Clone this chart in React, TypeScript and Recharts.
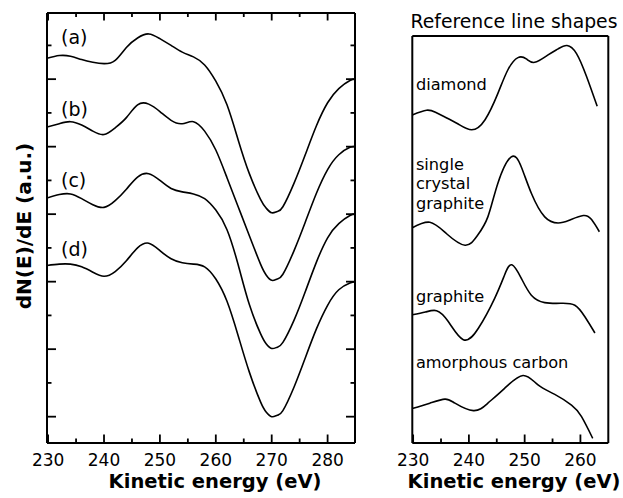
import React from 'react';
import { LineChart, Line, XAxis, YAxis, ReferenceDot } from 'recharts';

const FONT = '"DejaVu Sans", Verdana, sans-serif';

// ---------- Left panel: measured spectra (a)-(d) ----------
const energy = [229.8, 232, 234, 236, 238, 240, 242, 244, 246, 248, 250, 252, 254, 256, 258, 260, 262, 264, 266, 268, 269, 270, 271, 272, 274, 276, 278, 280, 282, 284, 284.9];
const spectrumA = [5.31, 5.35, 5.34, 5.29, 5.25, 5.23, 5.28, 5.47, 5.61, 5.67, 5.60, 5.50, 5.40, 5.33, 5.21, 4.97, 4.62, 4.10, 3.60, 3.22, 3.09, 3.02, 3.04, 3.11, 3.46, 3.88, 4.31, 4.65, 4.86, 4.98, 5.00];
const spectrumB = [4.29, 4.34, 4.37, 4.32, 4.23, 4.18, 4.28, 4.43, 4.62, 4.63, 4.52, 4.39, 4.34, 4.37, 4.23, 3.95, 3.54, 3.11, 2.68, 2.26, 2.10, 2.02, 2.04, 2.11, 2.46, 2.88, 3.31, 3.66, 3.88, 3.99, 4.00];
const spectrumC = [3.24, 3.29, 3.30, 3.23, 3.14, 3.10, 3.20, 3.37, 3.55, 3.60, 3.50, 3.38, 3.33, 3.30, 3.23, 3.06, 2.77, 2.25, 1.66, 1.23, 1.08, 1.01, 1.03, 1.10, 1.43, 1.85, 2.29, 2.65, 2.86, 2.98, 3.00];
const spectrumD = [2.24, 2.26, 2.26, 2.22, 2.14, 2.08, 2.15, 2.31, 2.50, 2.57, 2.46, 2.34, 2.28, 2.26, 2.22, 2.04, 1.71, 1.20, 0.66, 0.22, 0.07, 0.00, 0.02, 0.09, 0.44, 0.87, 1.30, 1.65, 1.88, 1.98, 2.00];
const spectrumNames = ['(a)', '(b)', '(c)', '(d)'];
const spectrumLabelE = [232.3, 232.3, 232.3, 232.3];
const spectrumLabelY = [5.52, 4.46, 3.40, 2.38];

const leftXDomain = [229.8, 284.9];
const leftYDomain = [-0.39, 5.98];
const leftXTicks = [230, 235, 240, 245, 250, 255, 260, 265, 270, 275, 280];
const leftYTicks = [0, 0.5, 1, 1.5, 2, 2.5, 3, 3.5, 4, 4.5, 5, 5.5];

// ---------- Right panel: reference line shapes ----------
const diamondE = [229.85, 232.4, 234.0, 235.7, 238.0, 240.5, 242.9, 245.2, 247.0, 248.8, 250.3, 251.8, 254.2, 256.0, 257.6, 259.3, 261.1, 263.0];
const diamondV = [4.86, 4.93, 4.90, 4.83, 4.73, 4.64, 4.79, 5.18, 5.53, 5.71, 5.69, 5.64, 5.75, 5.84, 5.89, 5.77, 5.43, 4.99];
const crystalE = [229.85, 233.0, 236.0, 239.3, 241.5, 243.4, 245.2, 247.6, 249.4, 251.2, 253.6, 256.0, 258.0, 260.5, 262.0, 263.4];
const crystalV = [3.19, 3.27, 3.10, 2.93, 3.07, 3.35, 3.85, 4.24, 4.09, 3.70, 3.35, 3.26, 3.30, 3.37, 3.31, 3.13];
const graphiteE = [229.85, 232.2, 234.2, 236.3, 239.0, 241.7, 244.6, 246.4, 247.7, 249.4, 251.2, 253.6, 256.6, 259.0, 260.8, 262.6];
const graphiteV = [1.90, 1.94, 1.96, 1.80, 1.53, 1.70, 2.14, 2.49, 2.64, 2.44, 2.19, 2.08, 2.07, 2.04, 1.87, 1.63];
const amorphousE = [229.85, 233.0, 235.7, 237.5, 240.8, 243.4, 246.4, 249.7, 252.4, 255.4, 258.4, 260.2, 262.2];
const amorphousV = [0.51, 0.59, 0.65, 0.59, 0.48, 0.59, 0.81, 1.00, 0.86, 0.72, 0.56, 0.39, 0.07];
const refNames = [['diamond'], ['single', 'crystal', 'graphite'], ['graphite'], ['amorphous carbon']];
const refLabelE = [230.5, 230.5, 230.5, 230.5];
const refLabelY = [5.23, 4.05, 2.09, 1.11];

const rightXDomain = [229.85, 265.0];
const rightYDomain = [0, 6.03];
const rightXTicks = [230, 235, 240, 245, 250, 255, 260];

// ---------- data tables built from the arrays ----------
const leftData = energy.map((e, i) => ({ e, a: spectrumA[i], b: spectrumB[i], c: spectrumC[i], d: spectrumD[i] }));
const zip = (es: number[], vs: number[]) => es.map((e, i) => ({ e, v: vs[i] }));
const refSeries = [zip(diamondE, diamondV), zip(crystalE, crystalV), zip(graphiteE, graphiteV), zip(amorphousE, amorphousV)];

const isMajor = (v: number, step: number) => Math.abs(v / step - Math.round(v / step)) < 1e-6;

const makeBottomTick = (withLabels: boolean) => (p: any) => {
  const { x, y, payload } = p;
  const v = payload.value;
  const major = isMajor(v, 10);
  return (
    <g>
      <line x1={x} x2={x} y1={y} y2={y - (major ? 8.5 : 4.5)} stroke="#000" strokeWidth={1.8} />
      {withLabels && major && (
        <text x={x} y={y + 23} textAnchor="middle" fontSize={17} fontFamily={FONT} fill="#000">{v}</text>
      )}
    </g>
  );
};
const topTick = (p: any) => {
  const { x, y, payload } = p;
  const major = isMajor(payload.value, 10);
  return <line x1={x} x2={x} y1={y} y2={y + (major ? 7.5 : 4)} stroke="#000" strokeWidth={1.8} />;
};
const leftTick = (p: any) => {
  const { x, y, payload } = p;
  const major = isMajor(payload.value, 1);
  return <line x1={x} x2={x + (major ? 9 : 4.5)} y1={y} y2={y} stroke="#000" strokeWidth={1.8} />;
};
const rightTick = (p: any) => {
  const { x, y, payload } = p;
  const major = isMajor(payload.value, 1);
  return <line x1={x} x2={x - (major ? 9 : 4.5)} y1={y} y2={y} stroke="#000" strokeWidth={1.8} />;
};

const textLabel = (lines: string[], size: number, gap: number) => (p: any) => {
  const vb = p.viewBox || {};
  const x = vb.x + (vb.width || 0) / 2;
  const y = vb.y + (vb.height || 0) / 2;
  return (
    <text x={x} y={y} fontSize={size} fontFamily={FONT} fill="#000">
      {lines.map((l, i) => (
        <tspan key={i} x={x} dy={i === 0 ? 0 : gap}>{l}</tspan>
      ))}
    </text>
  );
};

const frame = { stroke: '#000', strokeWidth: 2 };

const LeftPanel = () => (
  <LineChart width={380} height={498} data={leftData} margin={{ top: 12, right: 24, bottom: 54, left: 46 }}>
    <XAxis xAxisId="bottom" dataKey="e" type="number" domain={leftXDomain} allowDataOverflow ticks={leftXTicks} interval={0}
      height={1} axisLine={frame} tickLine={false} tickSize={0} tickMargin={0} tick={makeBottomTick(true)}
      label={{ content: () => (
        <text x={215} y={487.5} textAnchor="middle" fontSize={19.5} fontWeight="bold" fontFamily={FONT} fill="#000">Kinetic energy (eV)</text>
      ) }} />
    <XAxis xAxisId="top" orientation="top" dataKey="e" type="number" domain={leftXDomain} allowDataOverflow ticks={leftXTicks} interval={0}
      height={1} axisLine={frame} tickLine={false} tickSize={0} tickMargin={0} tick={topTick} />
    <YAxis yAxisId="left" type="number" domain={leftYDomain} allowDataOverflow ticks={leftYTicks} interval={0}
      width={1} axisLine={frame} tickLine={false} tickSize={0} tickMargin={0} tick={leftTick}
      label={{ content: () => (
        <text x={30.7} y={226} transform="rotate(-90 30.7 226)" textAnchor="middle" fontSize={20} fontWeight="bold" fontFamily={FONT} fill="#000">dN(E)/dE (a.u.)</text>
      ) }} />
    <YAxis yAxisId="right" orientation="right" type="number" domain={leftYDomain} allowDataOverflow ticks={leftYTicks} interval={0}
      width={1} axisLine={frame} tickLine={false} tickSize={0} tickMargin={0} tick={rightTick} />
    {['a', 'b', 'c', 'd'].map((k) => (
      <Line key={k} xAxisId="bottom" yAxisId="left" dataKey={k} type="natural" stroke="#000" strokeWidth={1.6} dot={false} isAnimationActive={false} />
    ))}
    {spectrumNames.map((n, i) => (
      <ReferenceDot key={n} xAxisId="bottom" yAxisId="left" x={spectrumLabelE[i]} y={spectrumLabelY[i]} r={0} fill="none" stroke="none"
        label={{ content: textLabel([n], 19, 0) }} />
    ))}
  </LineChart>
);

const RightPanel = () => (
  <LineChart width={243} height={498} margin={{ top: 35, right: 13.7, bottom: 54, left: 31.3 }}>
    <XAxis xAxisId="bottom" dataKey="e" type="number" domain={rightXDomain} allowDataOverflow ticks={rightXTicks} interval={0}
      height={1} axisLine={frame} tickLine={false} tickSize={0} tickMargin={0} tick={makeBottomTick(true)}
      label={{ content: () => (
        <text x={134} y={487.5} textAnchor="middle" fontSize={19.5} fontWeight="bold" fontFamily={FONT} fill="#000">Kinetic energy (eV)</text>
      ) }} />
    <XAxis xAxisId="top" orientation="top" dataKey="e" type="number" domain={rightXDomain} allowDataOverflow
      height={1} axisLine={frame} tickLine={false} tick={false}
      label={{ content: () => (
        <text x={134} y={28.3} textAnchor="middle" fontSize={18.8} fontFamily={FONT} fill="#000">Reference line shapes</text>
      ) }} />
    <YAxis yAxisId="left" type="number" domain={rightYDomain} allowDataOverflow width={1} axisLine={frame} tickLine={false} tick={false} />
    <YAxis yAxisId="right" orientation="right" type="number" domain={rightYDomain} allowDataOverflow width={1} axisLine={frame} tickLine={false} tick={false} />
    {refSeries.map((s, i) => (
      <Line key={i} data={s} xAxisId="bottom" yAxisId="left" dataKey="v" type="natural" stroke="#000" strokeWidth={1.6} dot={false} isAnimationActive={false} />
    ))}
    {refNames.map((lines, i) => (
      <ReferenceDot key={i} xAxisId="bottom" yAxisId="left" x={refLabelE[i]} y={refLabelY[i]} r={0} fill="none" stroke="none"
        label={{ content: textLabel(lines, 16.2, 19.5) }} />
    ))}
  </LineChart>
);

export default function App() {
  return (
    <div style={{ position: 'absolute', left: 0, top: 0, width: 623, height: 498, background: '#fff', overflow: 'hidden' }}>
      <div style={{ position: 'absolute', left: 0, top: 0 }}>
        <LeftPanel />
      </div>
      <div style={{ position: 'absolute', left: 380, top: 0 }}>
        <RightPanel />
      </div>
    </div>
  );
}
